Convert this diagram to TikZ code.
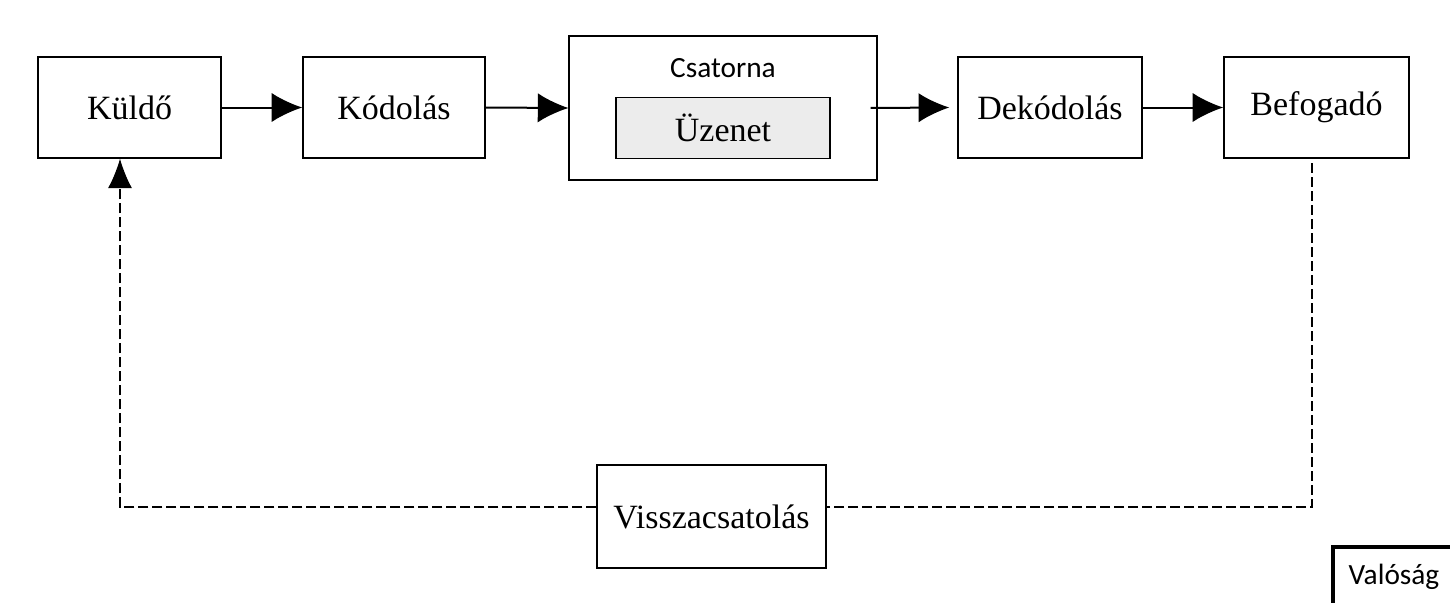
\documentclass[tikz,border=0pt]{standalone}
\usepackage{fontspec}
\setmainfont{Liberation Serif}
\newfontfamily\sansf{Carlito}
\usetikzlibrary{arrows.meta}
\tikzset{
  box/.style={draw, line width=1.1pt, minimum height=75.75pt, inner sep=0pt,
    font=\fontsize{25.5}{30}\selectfont},
  lbl/.style={font=\sansf\fontsize{22}{26}\selectfont, inner sep=0pt},
  arr/.style={line width=1.5pt, -{Latex[length=23pt,width=22pt]}},
  fb/.style={line width=0.9pt, dash pattern=on 7.5pt off 3pt},
  fbarr/.style={fb, -{Latex[length=22pt,width=18pt]}}
}
\begin{document}
\begin{tikzpicture}[x=0.75pt,y=-0.75pt]
\useasboundingbox[fill=white] (0,0) rectangle (1450,603);
% main chain
\node[box, minimum width=137.25pt] (kuldo) at (129.5,107.5) {Küldő};
\node[box, minimum width=136.5pt] (kodolas) at (394,107.5) {Kódolás};
\node[draw, line width=0.8pt, minimum width=231pt, minimum height=108pt, inner sep=0pt] (csat) at (723,108) {};
\node[lbl] (csatlbl) at (723,68) {Csatorna};
\node[box, fill=gray!15, minimum width=160.5pt, minimum height=45.75pt] (uzenet) at (723,128) {Üzenet};
\node[box, minimum width=138pt] (dekod) at (1050,107.5) {Dekódolás};
\node[box, minimum width=138.75pt] (befog) at (1316.5,107.5) {\raisebox{3pt}{Befogadó}};
\node[box, minimum width=171.75pt, minimum height=77.25pt] (vissza) at (711.5,516.5) {Visszacsatolás};
% Valóság corner
\node[lbl] (val) at (1394,577) {Valóság};
\draw[line width=3pt] (1333,603) -- (1333,547) -- (1450,547);
% arrows
\draw[arr] (kuldo.east) -- (kodolas.west);
\draw[arr] (kodolas.east) -- (csat.west);
\draw[arr] ([xshift=-5.25pt]csat.east) -- ([xshift=-6pt]dekod.west);
\draw[arr] (dekod.east) -- (befog.west);
% feedback loop
\coordinate (bt) at (1312,163);
\coordinate (br) at (1312,507);
\coordinate (bl) at (120,507);
\draw[fb] (bt) -- (br) -- (vissza.east |- br);
\draw[fbarr] (vissza.west |- br) -- (bl) -- (bl |- kuldo.south);
\end{tikzpicture}
\end{document}
